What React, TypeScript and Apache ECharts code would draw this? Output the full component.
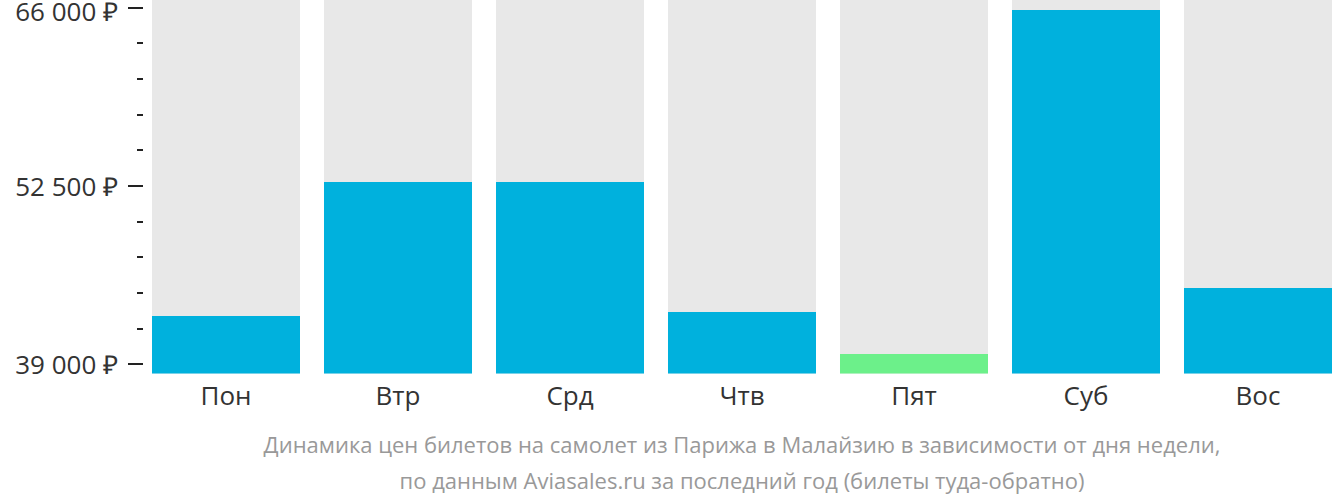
import React, { useEffect, useRef } from "react";
import * as echarts from "echarts";

const days = ["Пон", "Втр", "Срд", "Чтв", "Пят", "Суб", "Вос"];
const prices = [42635, 52783, 52783, 42938, 39757, 65808, 44755];
const highlightIndex = 4;
const majorTicks = [39000, 52500, 66000];
const minorTicks = [41700, 44400, 47100, 49800, 55200, 57900, 60600, 63300];
const yMin = 38281;
const yMax = 66566;
const captionLines = [
  "Динамика цен билетов на самолет из Парижа в Малайзию в зависимости от дня недели,",
  "по данным Aviasales.ru за последний год (билеты туда-обратно)",
];

const fmt = (v: number) =>
  String(Math.round(v)).replace(/\B(?=(\d{3})+(?!\d))/g, " ") + " ₽";

export default function App() {
  const ref = useRef<HTMLDivElement>(null);
  useEffect(() => {
    document.body.style.margin = "0";
    const chart = echarts.init(ref.current!, null, { renderer: "svg" });
    const font = "'Open Sans', sans-serif";
    chart.setOption({
      animation: false,
      grid: { left: 140, width: 1204, top: 0, bottom: 128.5, outerBoundsMode: "none", containLabel: false },
      xAxis: {
        type: "category",
        data: days,
        axisLine: { show: false },
        axisTick: { show: false },
        axisLabel: { color: "#333", fontSize: 26, fontFamily: font, margin: 8 },
      },
      yAxis: [
        {
          type: "value",
          min: yMin,
          max: yMax,
          offset: -3,
          splitLine: { show: false },
          axisLine: { show: false },
          axisTick: { show: true, length: 15, customValues: majorTicks, lineStyle: { color: "#222", width: 2 } },
          axisLabel: {
            customValues: majorTicks,
            formatter: (v: number) =>
              v === majorTicks[majorTicks.length - 1] ? "{top|" + fmt(v) + "}" : fmt(v),
            color: "#333",
            fontSize: 26,
            fontFamily: font,
            margin: 25,
            rich: {
              top: { padding: [7, 0, 0, 0], lineHeight: 22, fontSize: 26, fontFamily: font, color: "#333" },
            },
          },
        },
        {
          type: "value",
          min: yMin,
          max: yMax,
          offset: -3,
          position: "left",
          splitLine: { show: false },
          axisLine: { show: false },
          axisLabel: { show: false },
          axisTick: { show: true, length: 6, customValues: minorTicks, lineStyle: { color: "#222", width: 2 } },
        },
      ],
      series: [
        {
          type: "bar",
          data: prices.map((v, i) =>
            i === highlightIndex ? { value: v, itemStyle: { color: "#6cf08a" } } : v
          ),
          barCategoryGap: "13.95%",
          itemStyle: { color: "#00b1dd" },
          showBackground: true,
          backgroundStyle: { color: "#e8e8e8" },
        },
      ],
      graphic: captionLines.map((t, i) => ({
        type: "text",
        x: 742,
        y: 444 + i * 36,
        style: {
          text: t,
          fill: "#999",
          fontSize: 22,
          fontFamily: font,
          textAlign: "center",
          textVerticalAlign: "middle",
        },
      })),
    });
    return () => chart.dispose();
  }, []);
  return <div ref={ref} style={{ position: "absolute", left: 0, top: 0, width: 1332, height: 502 }} />;
}
